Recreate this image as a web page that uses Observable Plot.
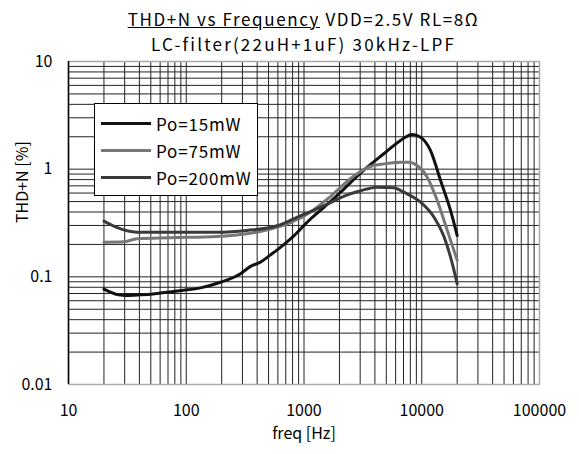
<!DOCTYPE html>
<html>
<head>
<meta charset="utf-8">
<script src="https://cdn.jsdelivr.net/npm/d3@7"></script>
<script src="https://cdn.jsdelivr.net/npm/@observablehq/plot@0.6"></script>
<style>
  html, body { margin: 0; padding: 0; background: #fff; }
  body { width: 579px; height: 454px; position: relative; overflow: hidden;
         font-family: "Noto Sans CJK JP", "Noto Sans", sans-serif; color: #000; }
  .tl { position: absolute; left: 68px; width: 471px; text-align: center; white-space: nowrap;
        font-size: 17px; line-height: 25px; height: 25px; z-index: 2; }
  #t1 { top: 6px; letter-spacing: 1.6px; }
  #t2 { top: 31px; letter-spacing: 2.2px; }
  #chart { position: absolute; left: 0; top: 44px; z-index: 1; }
  #legend { position: absolute; left: 94px; top: 103px; width: 162px; height: 85px; z-index: 3;
            border: 1px solid #000; background: #fff; padding-top: 6px; box-sizing: content-box; }
  .row { height: 27px; display: flex; align-items: center; font-size: 17px; letter-spacing: 0.8px; }
  .sw { width: 50px; height: 3px; margin-left: 6px; margin-right: 5px; }
</style>
</head>
<body>
<div id="t1" class="tl"><u>THD+N vs Frequency</u> VDD=2.5V RL=8Ω</div>
<div id="t2" class="tl">LC-filter(22uH+1uF) 30kHz-LPF</div>
<div id="chart"></div>
<div id="legend"></div>
<script>
const seriesNames = ["Po=15mW", "Po=75mW", "Po=200mW"];
const seriesColors = ["#111111", "#777777", "#3a3a3a"];

const freq15 = [20, 26.7, 31, 41, 50, 68.5, 95, 132, 195, 289, 351, 427, 519, 593, 768, 820, 1104, 1294, 1914, 3019, 4764, 6601, 8300, 9770, 11880, 14450, 17550, 20000];
const thd15  = [0.077, 0.068, 0.067, 0.068, 0.069, 0.072, 0.075, 0.079, 0.089, 0.107, 0.125, 0.137, 0.160, 0.178, 0.225, 0.240, 0.335, 0.39, 0.57, 0.92, 1.39, 1.85, 2.10, 1.98, 1.49, 0.785, 0.414, 0.242];

const freq75 = [20, 30, 38, 73, 183, 328, 519, 768, 1139, 1684, 2490, 3434, 4764, 6601, 7770, 9140, 11130, 13540, 16470, 18750, 20000];
const thd75  = [0.210, 0.212, 0.226, 0.231, 0.237, 0.251, 0.278, 0.318, 0.400, 0.560, 0.82, 1.03, 1.12, 1.16, 1.16, 1.08, 0.843, 0.512, 0.270, 0.176, 0.142];

const freq200 = [20, 26, 38, 73, 183, 328, 593, 908, 1467, 2168, 3019, 4181, 5780, 7050, 9770, 12710, 15490, 18200, 20000];
const thd200  = [0.329, 0.286, 0.260, 0.260, 0.260, 0.270, 0.298, 0.365, 0.455, 0.560, 0.630, 0.681, 0.672, 0.611, 0.494, 0.358, 0.234, 0.132, 0.086];

const xTicks = [10, 100, 1000, 10000, 100000];
const yTicks = [0.01, 0.1, 1, 10];
const yTickLabels = ["0.01", "0.1", "1", "10"];

const xGrid = [];
for (let d = 10; d < 100000; d *= 10) for (let k = 1; k <= 9; k++) xGrid.push(d * k);
xGrid.push(100000);
const yGrid = [];
for (let d = 0.01; d < 9.99; d *= 10) for (let k = 1; k <= 9; k++) yGrid.push(+(d * k).toPrecision(3));
yGrid.push(10);

const allF = [freq15, freq75, freq200];
const allV = [thd15, thd75, thd200];
const rows = [];
seriesNames.forEach((s, i) => allF[i].forEach((f, j) => rows.push({series: s, f, v: allV[i][j]})));

const chart = Plot.plot({
  width: 579, height: 410,
  marginTop: 17, marginLeft: 68, marginRight: 40, marginBottom: 70,
  style: {fontFamily: '"Noto Sans CJK JP", "Noto Sans", sans-serif', fontSize: "16px", color: "#000", background: "transparent"},
  x: {type: "log", domain: [10, 100000], ticks: xTicks, tickFormat: d => String(d), tickSize: 0, tickPadding: 20, label: null},
  y: {type: "log", domain: [0.01, 10], ticks: yTicks, tickFormat: d => yTickLabels[yTicks.indexOf(d)], tickSize: 0, tickPadding: 16, label: null},
  color: {domain: seriesNames, range: seriesColors},
  marks: [
    Plot.ruleX(xGrid, {stroke: "#222", strokeWidth: 1}),
    Plot.ruleY(yGrid, {stroke: "#222", strokeWidth: 1}),
    Plot.frame({stroke: "#aaa", strokeWidth: 1.5}),
    Plot.ruleX([10], {stroke: "#000", strokeWidth: 1.5}),
    Plot.line(rows, {x: "f", y: "v", z: "series", stroke: "series", strokeWidth: 3, curve: "monotone-x"}),
    Plot.text(["freq [Hz]"], {frameAnchor: "bottom", dy: 54, fontSize: 16, letterSpacing: "0.6px"}),
    Plot.text(["THD+N [%]"], {frameAnchor: "left", dx: -46, rotate: -90, fontSize: 16, letterSpacing: "0.6px"})
  ]
});
document.getElementById("chart").appendChild(chart);

const legend = document.getElementById("legend");
seriesNames.forEach((s, i) => {
  const r = document.createElement("div");
  r.className = "row";
  r.innerHTML = `<span class="sw" style="background:${seriesColors[i]}"></span><span>${s}</span>`;
  legend.appendChild(r);
});
</script>
</body>
</html>
